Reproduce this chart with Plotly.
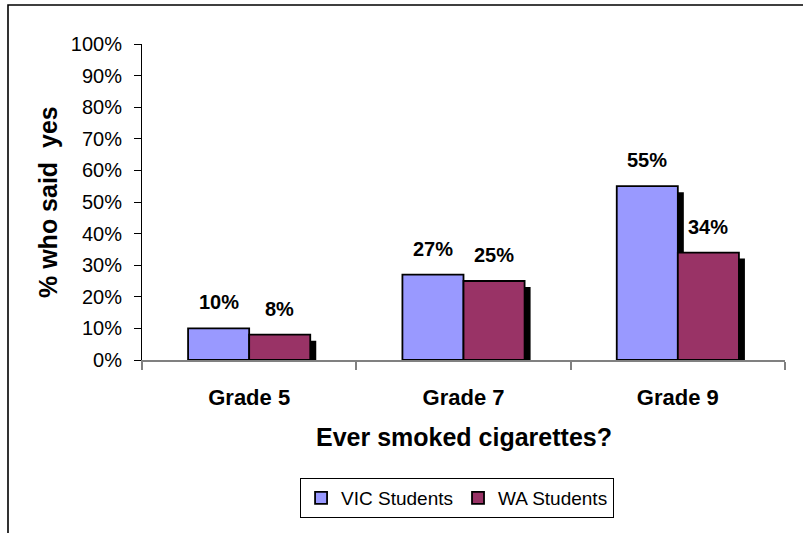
import plotly.graph_objects as go

categories = ["Grade 5", "Grade 7", "Grade 9"]
vic_values = [10, 27, 55]
wa_values = [8, 25, 34]
series_names = ["VIC Students", "WA Students"]
y_tick_vals = [0, 10, 20, 30, 40, 50, 60, 70, 80, 90, 100]
y_tick_text = [f"{v}%" for v in y_tick_vals]

W, H = 803, 533
ML, MR, MT, MB = 142, 18, 44, 173
plot_w = W - ML - MR
plot_h = H - MT - MB

BAR_W = 0.285
SHADOW_DX = 6 / (plot_w / 3)      # 6 px in category units
SHADOW_DY = 6 / (plot_h / 100)    # 6 px in % units

FONT = "Liberation Sans, Arial, sans-serif"
VIC_C = "#9999FF"
WA_C = "#993366"

fig = go.Figure()
# shadows
for vals, off in [(vic_values, -BAR_W), (wa_values, 0)]:
    fig.add_trace(go.Bar(
        x=categories, y=vals, base=-SHADOW_DY, width=BAR_W, offset=off + SHADOW_DX,
        marker=dict(color="black", line=dict(width=0)), showlegend=False, hoverinfo="skip"))
# bars
fig.add_trace(go.Bar(x=categories, y=vic_values, name=series_names[0], width=BAR_W, offset=-BAR_W,
                     marker=dict(color=VIC_C, line=dict(color="black", width=1.8))))
fig.add_trace(go.Bar(x=categories, y=wa_values, name=series_names[1], width=BAR_W, offset=0,
                     marker=dict(color=WA_C, line=dict(color="black", width=1.8))))

annotations = []
for i, (v, w) in enumerate(zip(vic_values, wa_values)):
    annotations.append(dict(x=i - BAR_W / 2, y=v, xref="x", yref="y", text=f"{v}%", showarrow=False,
                            yanchor="bottom", yshift=13, font=dict(family=FONT, size=20, color="black", weight="bold")))
    annotations.append(dict(x=i + BAR_W / 2, y=w, xref="x", yref="y", text=f"{w}%", showarrow=False,
                            yanchor="bottom", yshift=13, font=dict(family=FONT, size=20, color="black", weight="bold")))

annotations.append(dict(text="<b>% who said  yes</b>", xref="paper", yref="paper", x=0, y=0.5,
                        xshift=-94, textangle=-90, showarrow=False, xanchor="center", yanchor="middle",
                        font=dict(family=FONT, size=25, color="black")))
annotations.append(dict(text="<b>Ever smoked cigarettes?</b>", xref="paper", yref="paper", x=0.5, y=0,
                        yshift=-77, showarrow=False, xanchor="center", yanchor="middle",
                        font=dict(family=FONT, size=25, color="black")))

fig.update_layout(
    width=W, height=H,
    margin=dict(l=ML, r=MR, t=MT, b=MB),
    paper_bgcolor="white", plot_bgcolor="white",
    barmode="overlay",
    font=dict(family=FONT, size=20, color="black"),
    xaxis=dict(type="category", range=[-0.5, 2.5], showline=True, linecolor="#808080", linewidth=1.5,
               ticks="outside", tickson="boundaries", ticklen=8, tickcolor="#808080", tickwidth=1.5,
               showgrid=False, zeroline=False, ticklabelstandoff=17,
               tickfont=dict(family=FONT, size=22, color="black", weight="bold")),
    yaxis=dict(range=[0, 100], tickvals=y_tick_vals, ticktext=y_tick_text, showline=True,
               linecolor="black", linewidth=1, ticks="outside", ticklen=7, tickcolor="black",
               showgrid=False, zeroline=False, ticklabelstandoff=8,
               tickfont=dict(family=FONT, size=20, color="black")),
    legend=dict(orientation="h", x=0.49, y=-0.3734, xanchor="center", yanchor="top",
                bordercolor="black", borderwidth=1, bgcolor="white",
                font=dict(family=FONT, size=19, color="black"),
                itemwidth=30, tracegroupgap=0),
    annotations=annotations,
    shapes=[dict(type="rect", xref="paper", yref="paper",
                 x0=(8 - ML) / plot_w, x1=(W + 10 - ML) / plot_w,
                 y0=(plot_h + MT - H - 10) / plot_h, y1=(plot_h + MT - 5) / plot_h,
                 line=dict(color="black", width=1.6), layer="below")],
)

fig.write_html("out.html", config={"displayModeBar": False},
               post_script="document.body.style.margin='0px';")
